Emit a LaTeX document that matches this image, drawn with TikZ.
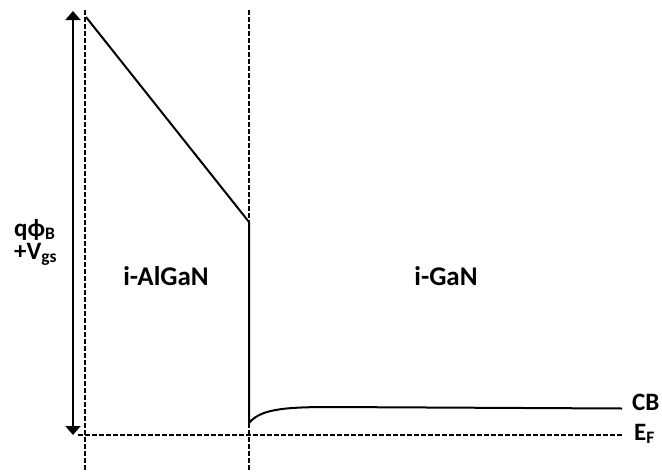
\documentclass[tikz,border=0pt]{standalone}
\usepackage{fontspec}
\setmainfont{Carlito}
\usetikzlibrary{arrows.meta}
\begin{document}
\begin{tikzpicture}[x=1pt,y=-1pt,
  band/.style={line width=2pt, line join=miter},
  guide/.style={line width=2pt, dash pattern=on 4.5pt off 2.5pt},
  span/.style={line width=2pt, {Triangle[width=15pt,length=9pt]}-{Triangle[width=15pt,length=9pt]}},
  region/.style={font=\bfseries\fontsize{27}{32}\selectfont, inner sep=0pt, anchor=base},
  side/.style={font=\bfseries\fontsize{25}{30}\selectfont, inner sep=0pt, anchor=base west}]
\useasboundingbox (0,0) rectangle (662,472);

% key points of the band edge
\coordinate (gateTop) at (86,17);
\coordinate (hetTop) at (249,222);
\coordinate (hetBot) at (249,423);
\coordinate (cbKnee) at (330,407);
\coordinate (cbEnd) at (622,408.5);
\coordinate (efL) at (78,435);
\coordinate (efR) at (622,435);
\coordinate (arrTop) at (73,11);
\coordinate (arrBot) at (73,435);
\coordinate (leftTop) at (85,10);
\coordinate (leftBot) at (85,472);
\coordinate (midTop) at (249,10);
\coordinate (midBot) at (249,472);

% layer boundaries and Fermi level
\draw[guide] (leftTop) -- (leftBot);
\draw[guide] (midTop) -- (hetTop);
\draw[guide] (hetBot) -- (midBot);
\draw[guide] (efL) -- (efR);

% conduction band
\draw[band] (gateTop) -- (hetTop) -- (hetBot)
  .. controls (260,410) and (280,407) .. (cbKnee) -- (cbEnd);

% barrier height span
\draw[span] (arrTop) -- (arrBot);

% labels
\node[side] (phib) at (14,236) {qϕ\textsubscript{B}};
\node[side] (vgs) at (14,259) {+V\textsubscript{gs}};
\node[region] (algan) at (166,285) {i-AlGaN};
\node[region] (gan) at (446,285) {i-GaN};
\node[side] (cb) at (632,410) {CB};
\node[side] (ef) at (634,440) {E\textsubscript{F}};
\end{tikzpicture}
\end{document}
